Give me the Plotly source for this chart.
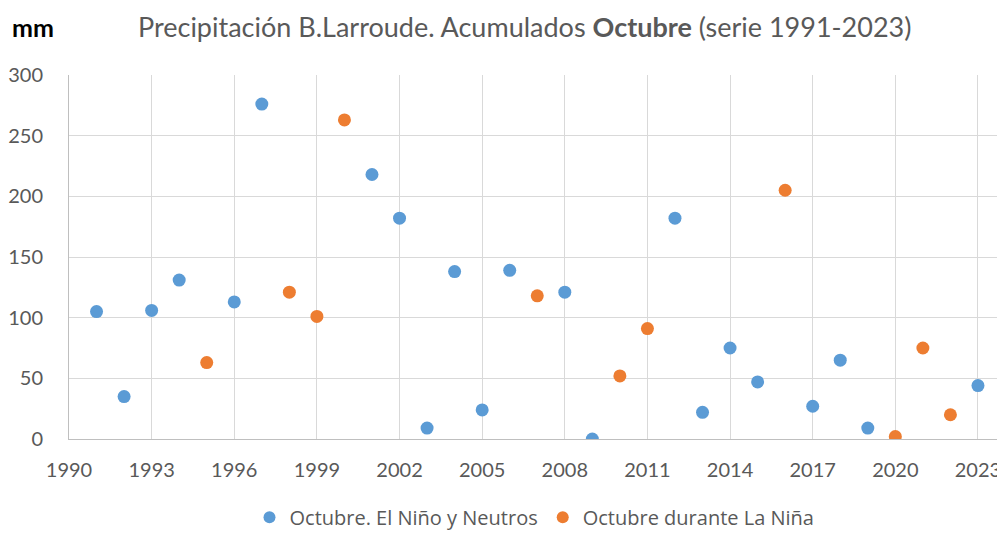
import plotly.graph_objects as go

years_nino = [1991, 1992, 1993, 1994, 1996, 1997, 2001, 2002, 2003, 2004, 2005,
              2006, 2008, 2009, 2012, 2013, 2014, 2015, 2017, 2018, 2019, 2023]
vals_nino = [105, 35, 106, 131, 113, 276, 218, 182, 9, 138, 24,
             139, 121, 0, 182, 22, 75, 47, 27, 65, 9, 44]

years_nina = [1995, 1998, 1999, 2000, 2007, 2010, 2011, 2016, 2020, 2021, 2022]
vals_nina = [63, 121, 101, 263, 118, 52, 91, 205, 2, 75, 20]

x_ticks = list(range(1990, 2024, 3))
y_ticks = [0, 50, 100, 150, 200, 250, 300]

FONT = "Lato, 'Open Sans', sans-serif"
LEG_FONT = "'Open Sans', Lato, sans-serif"

fig = go.Figure()
fig.add_trace(go.Scatter(x=years_nino, y=vals_nino, mode="markers",
                         name="Octubre. El Niño y Neutros",
                         marker=dict(color="#5B9BD5", size=13)))
fig.add_trace(go.Scatter(x=years_nina, y=vals_nina, mode="markers",
                         name="Octubre durante La Niña",
                         marker=dict(color="#ED7D31", size=13)))

# page body has an 8px default margin, so the figure is 8px smaller
fig.update_layout(
    width=997, height=526,
    paper_bgcolor="white", plot_bgcolor="white",
    margin=dict(l=61, r=5, t=67, b=95, autoexpand=False),
    font=dict(family=FONT, size=20, color="#595959"),
    showlegend=True,
    legend=dict(orientation="h", x=0.5, xanchor="center", y=-0.215, yanchor="middle",
                font=dict(size=20, color="#595959", family=LEG_FONT),
                itemsizing="constant", tracegroupgap=0),
)
fig.add_annotation(text="<b>mm</b>", xref="paper", yref="paper", x=-0.0634, y=1.132,
                   xanchor="left", yanchor="middle", showarrow=False,
                   font=dict(size=25, color="#000000", family=FONT))
fig.add_annotation(text="Precipitación B.Larroude. Acumulados <b>Octubre</b> (serie 1991-2023)",
                   xref="paper", yref="paper", x=0.489, y=1.132,
                   xanchor="center", yanchor="middle", showarrow=False,
                   font=dict(size=27, color="#595959", family=FONT))

fig.update_xaxes(range=[1990, 2023.8], tickvals=x_ticks, showgrid=True,
                 gridcolor="#D9D9D9", gridwidth=1, zeroline=False,
                 showline=True, linecolor="#BFBFBF", linewidth=1, automargin=False,
                 ticks="outside", ticklen=13, tickcolor="rgba(0,0,0,0)",
                 tickfont=dict(size=20, color="#595959"))
fig.update_yaxes(range=[0, 300], tickvals=y_ticks, showgrid=True,
                 gridcolor="#D9D9D9", gridwidth=1, zeroline=False,
                 showline=True, linecolor="#BFBFBF", linewidth=1, automargin=False,
                 ticks="outside", ticklen=21, tickcolor="rgba(0,0,0,0)",
                 tickfont=dict(size=20, color="#595959"))

fig.write_html("out.html")
